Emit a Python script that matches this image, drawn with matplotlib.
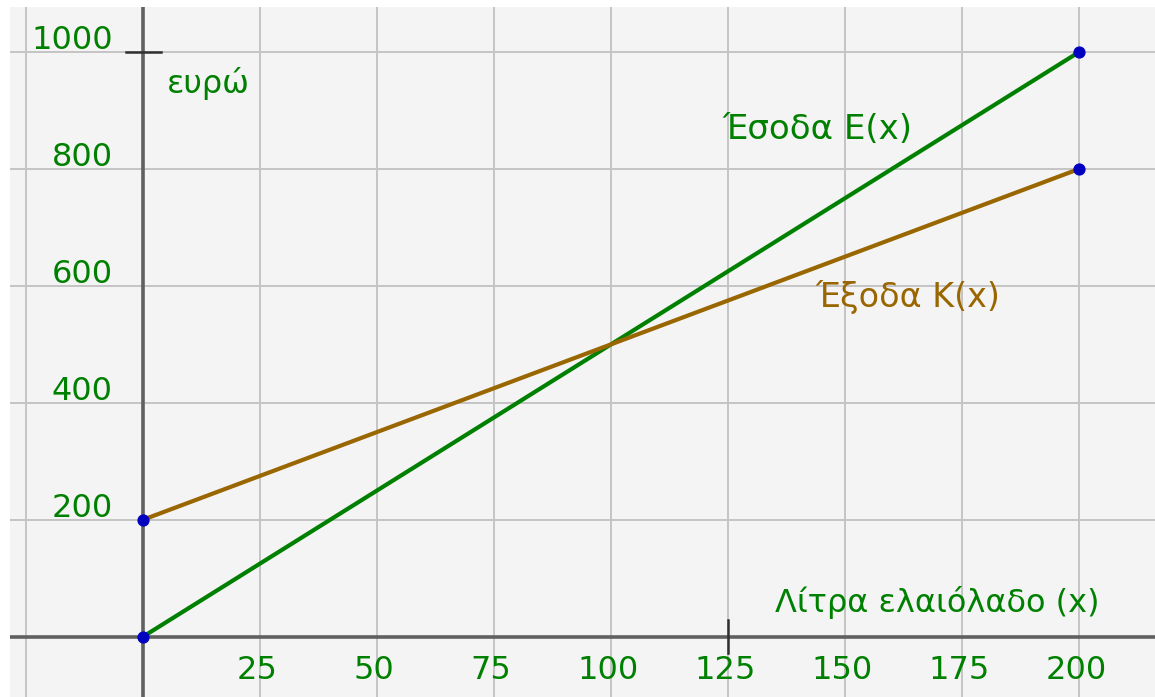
import matplotlib
matplotlib.use('Agg')
import matplotlib.pyplot as plt

# δεδομένα
litra = [0, 200]
esoda = [0, 1000]     # E(x) = 5x
exoda = [200, 800]    # K(x) = 200 + 3x
x_grid = [-25, 25, 50, 75, 100, 125, 150, 175, 200]
x_ticklabels = ['25', '50', '75', '100', '125', '150', '175', '200']
y_grid = [200, 400, 600, 800, 1000]
y_ticklabels = ['200', '400', '600', '800', '1000']

GREEN = '#008000'
BROWN = '#996600'
BLUE = '#0000c0'
BG = '#f4f4f4'

plt.rcParams['font.family'] = ['DejaVu Sans']

fig = plt.figure(figsize=(11.55, 6.97), dpi=100)
fig.patch.set_facecolor('white')
ax = fig.add_axes([10 / 1155, 0, 1145 / 1155, 690 / 697])
ax.set_facecolor(BG)
ax.set_xlim(-28.4, 216.2)
ax.set_ylim(-103.1, 1076.9)
for s in ax.spines.values():
    s.set_visible(False)
ax.set_xticks([])
ax.set_yticks([])

# πλέγμα
for gx in x_grid:
    ax.axvline(gx, color='#c4c4c4', lw=1.4, zorder=1)
for gy in y_grid:
    ax.axhline(gy, color='#c4c4c4', lw=1.4, zorder=1)

# άξονες
ax.axhline(0, color='#606060', lw=2.6, zorder=2)
ax.axvline(0, color='#606060', lw=2.6, zorder=2)
# μικρές γραμμές στα 1000 και 125
ax.plot([-3.6, 3.8], [1000, 1000], color='#303030', lw=1.8, zorder=2)
ax.plot([125, 125], [-28, 28], color='#303030', lw=1.8, zorder=2)

# ετικέτες αξόνων
for v, lab in zip(x_grid[1:], x_ticklabels):
    ax.text(v - 0.7, -57, lab, color=GREEN, fontsize=23, ha='center', va='center', zorder=3)
for v, lab in zip(y_grid, y_ticklabels):
    ax.text(-6.4, v + 19, lab, color=GREEN, fontsize=23, ha='right', va='center', zorder=3)

# γραμμές
ax.plot(litra, esoda, color=GREEN, lw=3.0, zorder=4, solid_capstyle='round')
ax.plot(litra, exoda, color=BROWN, lw=3.0, zorder=4, solid_capstyle='round')
ax.plot(litra, esoda, 'o', color=BLUE, ms=7.8, zorder=5)
ax.plot(litra, exoda, 'o', color=BLUE, ms=7.8, zorder=5)

# κείμενα
ax.text(5.1, 930, 'ευρώ', color=GREEN, fontsize=23, ha='left', va='baseline', zorder=3)
ax.text(123.7, 852, 'Έσοδα Ε(x)', color=GREEN, fontsize=24.5, ha='left', va='baseline', zorder=3)
ax.text(143.6, 564, 'Έξοδα Κ(x)', color=BROWN, fontsize=24, ha='left', va='baseline', zorder=3)
ax.text(135, 42, 'Λίτρα ελαιόλαδο (x)', color=GREEN, fontsize=23, ha='left', va='baseline', zorder=3)

fig.savefig('out.png', dpi=100, facecolor='white')
